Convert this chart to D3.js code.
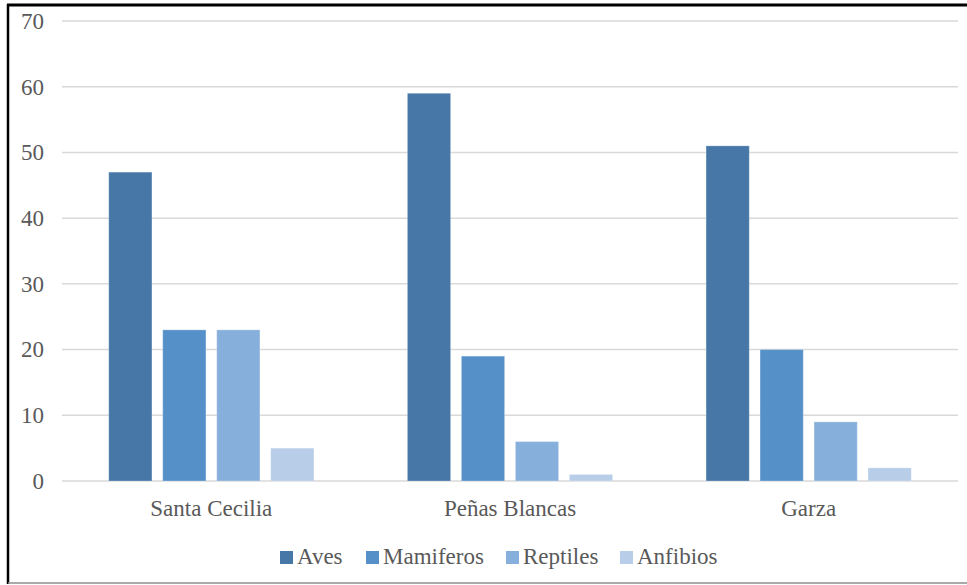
<!DOCTYPE html>
<html><head><meta charset="utf-8">
<script src="https://cdn.jsdelivr.net/npm/d3@7"></script>
<style>body{margin:0;background:#fff}svg{display:block}text{font-family:"Liberation Serif","Tinos","DejaVu Serif","Times New Roman",serif}</style>
</head><body>
<svg id="c" width="967" height="585"></svg>
<script>
const categories = ["Santa Cecilia", "Peñas Blancas", "Garza"];
const seriesNames = ["Aves", "Mamiferos", "Reptiles", "Anfibios"];
const aves = [47, 59, 51];
const mamiferos = [23, 19, 20];
const reptiles = [23, 6, 9];
const anfibios = [5, 1, 2];
const yTicks = [0, 10, 20, 30, 40, 50, 60, 70];
const colors = ["#4677A7", "#5591C8", "#87AFDC", "#B7CDE8"];

const series = [aves, mamiferos, reptiles, anfibios];
const svg = d3.select("#c");
const font = '"Liberation Serif", "Tinos", "DejaVu Serif", "Times New Roman", serif';
const fs = 23;
const pL = 62, pR = 958, pT = 21, pB = 481;

const y = d3.scaleLinear().domain([0, 70]).range([pB, pT]);
const x0 = d3.scaleBand().domain(categories).range([pL, pR]).paddingInner(0.2768).paddingOuter(0.1384);
const x1 = d3.scaleBand().domain(seriesNames).range([0, x0.bandwidth()]).paddingInner(0.2).paddingOuter(0.1);

// gridlines
svg.append("g").selectAll("line").data(yTicks).join("line")
  .attr("x1", pL).attr("x2", pR)
  .attr("y1", d => y(d)).attr("y2", d => y(d))
  .attr("stroke", "#d9d9d9").attr("stroke-width", 1.5);

// y labels via axis
const ya = svg.append("g").attr("transform", `translate(${pL - 18},0)`)
  .call(d3.axisLeft(y).tickValues(yTicks).tickSize(0).tickPadding(0));
ya.attr("font-family", null);
ya.select(".domain").remove();
ya.selectAll("text").style("font-family", font).attr("font-size", fs).attr("fill", "#595959");

// bars
const g = svg.append("g");
categories.forEach((c, ci) => {
  seriesNames.forEach((s, si) => {
    const v = series[si][ci];
    g.append("rect")
      .attr("x", x0(c) + x1(s)).attr("width", x1.bandwidth())
      .attr("y", y(v)).attr("height", y(0) - y(v))
      .attr("fill", colors[si])
      .attr("stroke", "rgba(255,255,255,0.25)").attr("stroke-width", 1);
  });
});

// x labels
const xa = svg.append("g").attr("transform", `translate(0,516)`)
  .call(d3.axisBottom(x0).tickSize(0).tickPadding(0));
xa.attr("font-family", null);
xa.select(".domain").remove();
xa.selectAll("text").style("font-family", font).attr("font-size", fs).attr("fill", "#595959").attr("dy", 0);

// legend
const legendX = [280, 366, 506, 620];
const lg = svg.append("g");
seriesNames.forEach((s, i) => {
  lg.append("rect").attr("x", legendX[i]).attr("y", 551).attr("width", 13).attr("height", 13).attr("fill", colors[i]);
  lg.append("text").attr("x", legendX[i] + 17).attr("y", 564)
    .style("font-family", font).attr("font-size", fs).attr("fill", "#595959").text(s);
});

// border
svg.append("line").attr("x1", 7).attr("x2", 967).attr("y1", 5).attr("y2", 5).attr("stroke", "#000").attr("stroke-width", 3);
svg.append("line").attr("x1", 8).attr("x2", 8).attr("y1", 4).attr("y2", 584).attr("stroke", "#000").attr("stroke-width", 2.5);
svg.append("line").attr("x1", 8).attr("x2", 967).attr("y1", 583).attr("y2", 583).attr("stroke", "#8c8c8c").attr("stroke-width", 1.5);
</script>
</body></html>
